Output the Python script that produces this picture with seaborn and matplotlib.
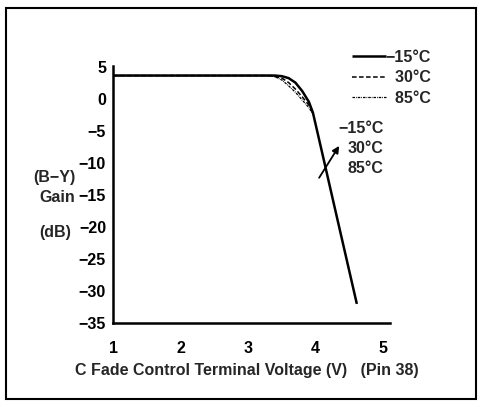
import matplotlib
matplotlib.use("Agg")
import matplotlib.pyplot as plt
import seaborn as sns
import pandas as pd
from matplotlib.patches import Rectangle

sns.set_theme(style="white")
plt.rcParams['font.family'] = ['Liberation Sans', 'DejaVu Sans']

# Data
v_m15 = [1.0, 3.4, 3.5, 3.6, 3.7, 3.8, 3.9, 3.96, 4.1, 4.3, 4.61]
g_m15 = [3.6, 3.6, 3.5, 3.2, 2.5, 1.2, -0.5, -2.2, -8.6, -17.8, -32.0]
v_30 = [1.0, 3.35, 3.5, 3.6, 3.7, 3.8, 3.9, 3.96]
g_30 = [3.6, 3.6, 3.2, 2.5, 1.5, 0.3, -1.0, -2.2]
v_85 = [1.0, 3.3, 3.4, 3.5, 3.6, 3.7, 3.8, 3.9, 3.96]
g_85 = [3.6, 3.6, 3.4, 2.9, 2.0, 1.0, -0.2, -1.4, -2.4]
series_labels = ["\u221215\u00b0C", "30\u00b0C", "85\u00b0C"]
x_ticks = [1, 2, 3, 4, 5]
y_ticks = [5, 0, -5, -10, -15, -20, -25, -30, -35]

df = pd.concat([
    pd.DataFrame({"V": v_m15, "G": g_m15, "T": series_labels[0]}),
    pd.DataFrame({"V": v_30, "G": g_30, "T": series_labels[1]}),
    pd.DataFrame({"V": v_85, "G": g_85, "T": series_labels[2]}),
])

FS = 11.5
fig = plt.figure(figsize=(4.82, 4.07), dpi=100)
ax = fig.add_axes([0.2345, 0.206, 0.5745, 0.632])

styles = {series_labels[0]: (0, ()), series_labels[1]: (0, (3, 1.6)), series_labels[2]: (0, (2, 0.8, 0.6, 0.8))}
widths = {series_labels[0]: 1.8, series_labels[1]: 1.1, series_labels[2]: 0.9}
legend_names = {series_labels[0]: series_labels[0],
                series_labels[1]: "  " + series_labels[1],
                series_labels[2]: "  " + series_labels[2]}
for lab in series_labels:
    sub = df[df["T"] == lab]
    sns.lineplot(data=sub, x="V", y="G", ax=ax, color="black", sort=False,
                 linestyle=styles[lab], linewidth=widths[lab], label=legend_names[lab],
                 estimator=None)

ax.set_xlim(1, 5.1)
ax.set_ylim(-35, 5.1)
ax.set_xticks(x_ticks)
ax.set_yticks(y_ticks)
ax.set_yticklabels([str(t).replace("-", "\u2212") for t in y_ticks])
for s in ["top", "right"]:
    ax.spines[s].set_visible(False)
for s in ["left", "bottom"]:
    ax.spines[s].set_color("black")
    ax.spines[s].set_linewidth(1.8)
ax.tick_params(direction="in", length=4, width=1.5, colors="black", labelsize=FS)
ax.tick_params(axis="y", pad=5)
ax.tick_params(axis="x", pad=13)
for t in ax.get_xticklabels() + ax.get_yticklabels():
    t.set_fontweight("bold")
ax.set_xlabel("")
ax.set_ylabel("")

leg = ax.legend(loc="upper left", bbox_to_anchor=(352 / 482, 1 - 50 / 407),
                bbox_transform=fig.transFigure, frameon=False, borderpad=0, borderaxespad=0,
                fontsize=FS, handlelength=2.1, handletextpad=0.0, labelspacing=0.33)
for t in leg.get_texts():
    t.set_fontweight("bold")

# annotation arrow and labels
ax.annotate("", xy=(4.37, -7.0), xytext=(4.03, -12.7),
            arrowprops=dict(arrowstyle="-|>", color="black", lw=1.3, mutation_scale=10))
for i, lab in enumerate(series_labels):
    ax.text(5.01, -4.6 - i * 3.15, lab, ha="right", va="center", fontsize=FS, fontweight="bold")

fig.text(54 / 482, 1 - 178 / 407, "(B\u2212Y)", ha="center", va="center", fontsize=FS, fontweight="bold")
fig.text(57 / 482, 1 - 197 / 407, "Gain", ha="center", va="center", fontsize=FS, fontweight="bold")
fig.text(55 / 482, 1 - 233 / 407, "(dB)", ha="center", va="center", fontsize=FS, fontweight="bold")
fig.text(247 / 482, 1 - 371 / 407, "C Fade Control Terminal Voltage (V)   (Pin 38)", ha="center",
         va="center", fontsize=FS, fontweight="bold")

fig.patches.append(Rectangle((0.013, 0.02), 0.975, 0.96, transform=fig.transFigure,
                             fill=False, edgecolor="black", linewidth=1.5))

fig.savefig("out.png", dpi=100)
